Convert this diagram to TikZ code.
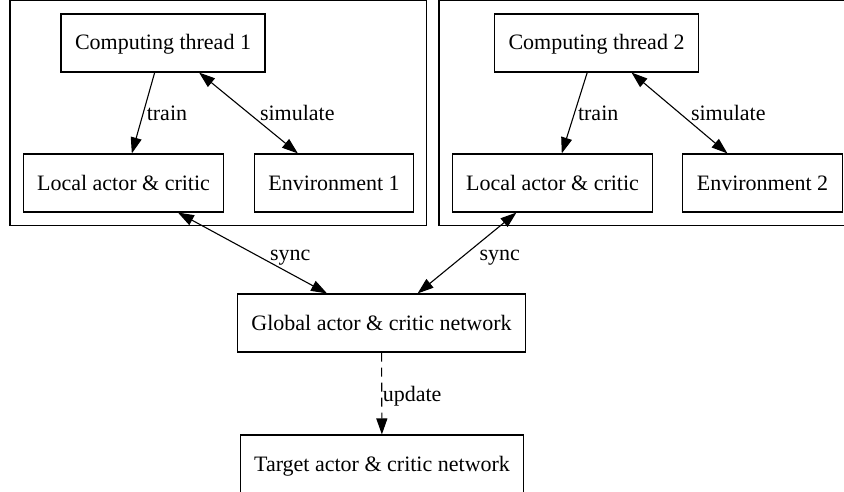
\documentclass[tikz,border=0pt]{standalone}
\usepackage{fontspec}
\setmainfont{Liberation Serif}
\usetikzlibrary{arrows.meta}
\usetikzlibrary{fit}

\begin{document}
\begin{tikzpicture}[
      , x=1pt, y=-1pt
      , font=\fontsize{22}{26}\selectfont
      , block/.style={rectangle, draw, line width=1.1pt, inner xsep=14pt, minimum height=58pt, text height=17pt, text depth=3pt}
      , cluster/.style={rectangle, draw, line width=1.1pt, inner sep=12.5pt}
      , link/.style={line width=1.1pt}
      , lbl/.style={inner sep=0pt, text height=20pt, text depth=5pt}
      ]

      \tikzset{>={Triangle[length=16pt,width=11pt]}}
      \useasboundingbox (0,0) rectangle (844,492);

      % thread 1
      \node[block] (thread1) at (163,43) {Computing thread 1};
      \node[block] (local1) at (123.5,183) {Local actor \& critic};
      \node[block] (env1) at (334,183) {Environment 1};
      \node[cluster, fit=(thread1) (local1) (env1)] (cl1) {};

      % thread 2
      \node[block] (thread2) at (596.5,43) {Computing thread 2};
      \node[block] (local2) at (552.5,183) {Local actor \& critic};
      \node[block] (env2) at (762.5,183) {Environment 2};
      \node[cluster, fit=(thread2) (local2) (env2)] (cl2) {};

      % shared networks
      \node[block] (global) at (381.5,323) {Global actor \& critic network};
      \node[block] (target) at (382,464) {Target actor \& critic network};

      \draw[link, ->] (thread1) -- node[lbl, right=3pt] {train} (local1);
      \draw[link, <->] (thread1) -- node[lbl, right=11pt] {simulate} (env1);
      \draw[link, ->] (thread2) -- node[lbl, right=3pt] {train} (local2);
      \draw[link, <->] (thread2) -- node[lbl, right=11pt] {simulate} (env2);

      \draw[link, <->] (local1) -- node[lbl, right=17pt] {sync} (global);
      \draw[link, <->] (local2) -- node[lbl, right=12pt] {sync} (global);
      \draw[link, ->, dash pattern=on 9pt off 6pt] (global) -- node[lbl, right=0.5pt] {update} (target);
    \end{tikzpicture}
\end{document}
